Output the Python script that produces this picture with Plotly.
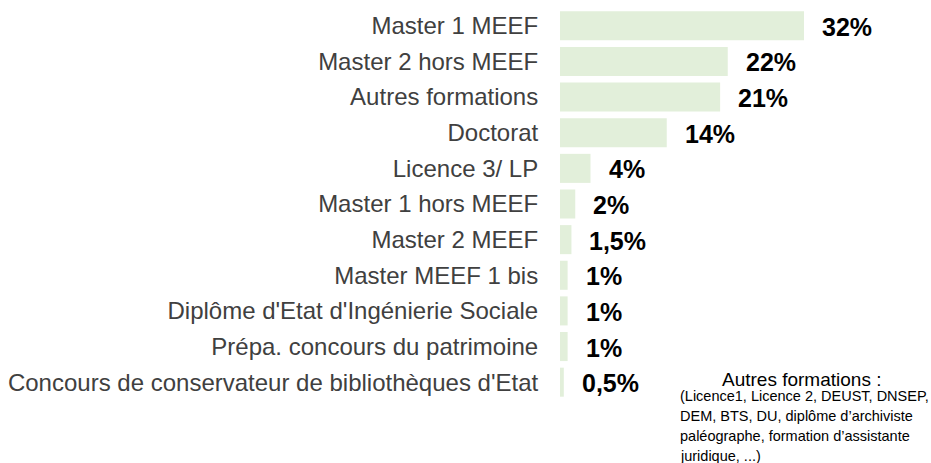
import plotly.graph_objects as go

categories = [
    "Master 1 MEEF",
    "Master 2 hors MEEF",
    "Autres formations",
    "Doctorat",
    "Licence 3/ LP",
    "Master 1 hors MEEF",
    "Master 2 MEEF",
    "Master MEEF 1 bis",
    "Diplôme d'Etat d'Ingénierie Sociale",
    "Prépa. concours du patrimoine",
    "Concours de conservateur de bibliothèques d'Etat",
]
values = [32, 22, 21, 14, 4, 2, 1.5, 1, 1, 1, 0.5]

note_title = "Autres formations :"
note_lines = [
    "(Licence1, Licence 2, DEUST, DNSEP,",
    "DEM, BTS, DU, diplôme d’archiviste",
    "paléographe, formation d’assistante",
    "juridique, ...)",
]

W, H = 931, 463
ML, MR, MT, MB = 560, 66, 8, 63
XMAX = 40
plot_w = W - ML - MR
plot_h = H - MT - MB


def px_to_paper_x(px):
    return (px - ML) / plot_w


def px_to_paper_y(py):
    return (H - MB - py) / plot_h


FONT = "Liberation Sans, Arial, Helvetica, sans-serif"

fig = go.Figure(
    go.Bar(
        x=values,
        y=categories,
        orientation="h",
        marker=dict(color="#E2EFDA", line=dict(width=0)),
        hoverinfo="skip",
    )
)

annotations = []
for c, v in zip(categories, values):
    label = f"{v:g}".replace(".", ",") + "%"
    annotations.append(
        dict(
            x=v, y=c, xref="x", yref="y", text=label, showarrow=False,
            xanchor="left", yanchor="middle", xshift=16, yshift=-1,
            font=dict(family=FONT, size=25, color="#000000", weight="bold"),
        )
    )

annotations.append(
    dict(
        x=px_to_paper_x(801), y=px_to_paper_y(379), xref="paper", yref="paper",
        text=note_title, showarrow=False, xanchor="center", yanchor="middle",
        font=dict(family=FONT, size=19, color="#000000"),
    )
)
for i, line in enumerate(note_lines):
    annotations.append(
        dict(
            x=px_to_paper_x(678), y=px_to_paper_y(396 + i * 20),
            xref="paper", yref="paper", text=line, showarrow=False,
            xanchor="left", yanchor="middle",
            font=dict(family=FONT, size=14.5, color="#000000"),
        )
    )

fig.update_layout(
    width=W, height=H,
    margin=dict(l=ML, r=MR, t=MT, b=MB, pad=0),
    paper_bgcolor="white", plot_bgcolor="white",
    bargap=0.185,
    showlegend=False,
    annotations=annotations,
    xaxis=dict(range=[0, XMAX], visible=False, fixedrange=True),
    yaxis=dict(
        categoryorder="array", categoryarray=categories,
        autorange="reversed", showgrid=False, zeroline=False, showline=False,
        ticks="outside", ticklen=16, tickcolor="rgba(0,0,0,0)",
        tickfont=dict(family=FONT, size=24, color="#404040"),
        automargin=False, fixedrange=True,
    ),
)

fig.write_html(
    "out.html",
    config={"displayModeBar": False},
    post_script="document.body.style.margin='0';document.body.style.overflow='hidden';",
)
